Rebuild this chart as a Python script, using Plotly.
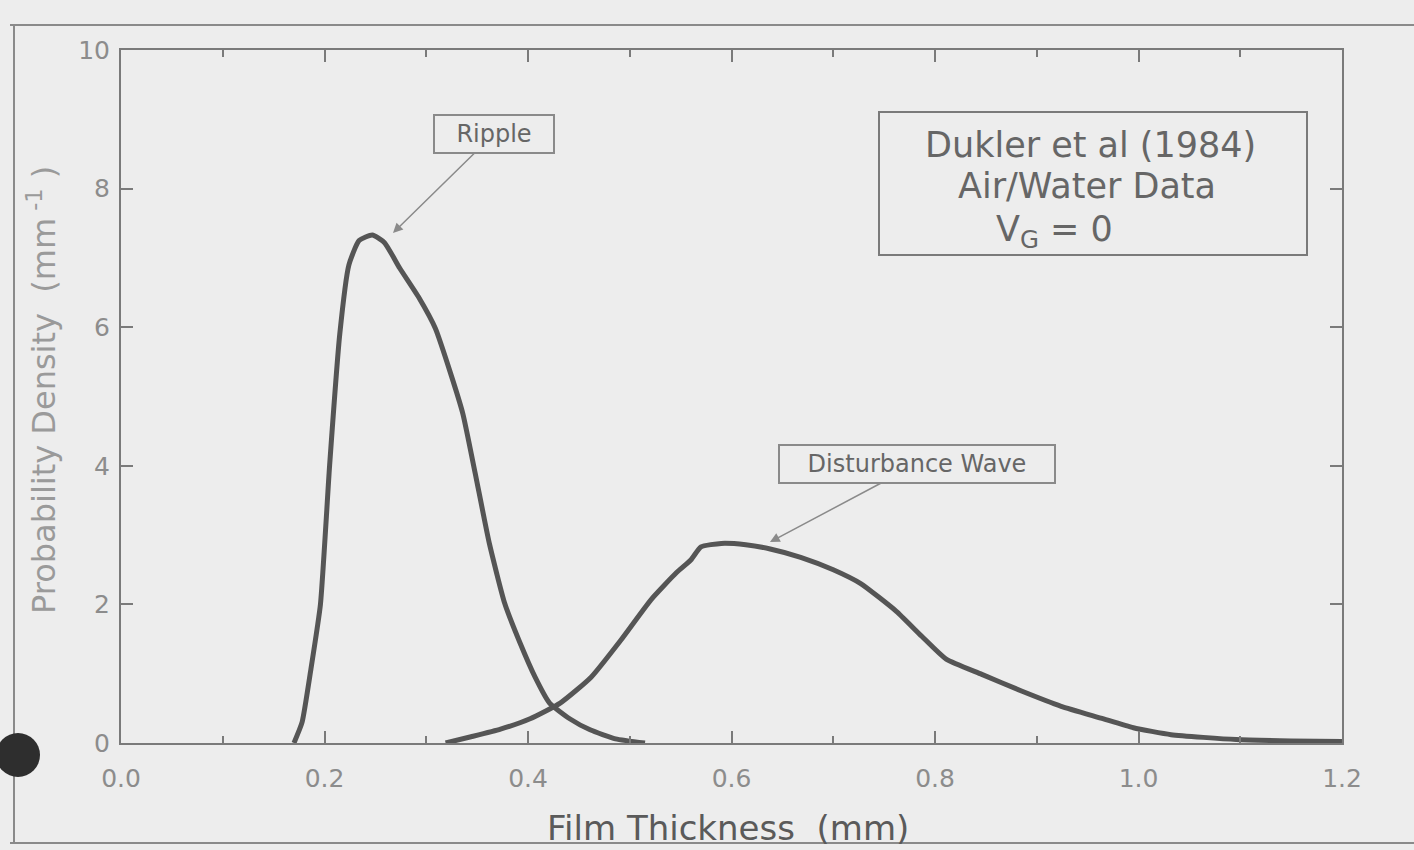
import plotly.graph_objects as go

# ---- data ----
ripple_x = [0.170, 0.178, 0.187, 0.196, 0.205, 0.215, 0.224, 0.234, 0.247, 0.259,
            0.274, 0.293, 0.309, 0.324, 0.336, 0.348, 0.362, 0.377, 0.392, 0.407,
            0.421, 0.441, 0.461, 0.486, 0.515]
ripple_y = [0.00, 0.30, 1.10, 2.00, 4.00, 5.90, 6.90, 7.25, 7.33, 7.22,
            6.85, 6.42, 5.98, 5.33, 4.75, 3.90, 2.88, 2.02, 1.45, 0.95,
            0.58, 0.35, 0.19, 0.06, 0.00]

dist_x = [0.319, 0.344, 0.373, 0.402, 0.432, 0.462, 0.491, 0.521, 0.546, 0.560,
          0.570, 0.590, 0.614, 0.638, 0.668, 0.700, 0.727, 0.762, 0.787, 0.811,
          0.846, 0.885, 0.924, 0.963, 0.995, 1.032, 1.096, 1.150, 1.200]
dist_y = [0.00, 0.09, 0.20, 0.35, 0.58, 0.95, 1.48, 2.07, 2.46, 2.64,
          2.83, 2.88, 2.86, 2.80, 2.68, 2.50, 2.30, 1.90, 1.54, 1.21,
          0.99, 0.75, 0.53, 0.36, 0.22, 0.12, 0.05, 0.03, 0.02]

x_ticks = [0.0, 0.2, 0.4, 0.6, 0.8, 1.0, 1.2]
x_tick_text = ["0.0", "0.2", "0.4", "0.6", "0.8", "1.0", "1.2"]
y_ticks = [0, 2, 4, 6, 8, 10]
y_tick_text = ["0", "2", "4", "6", "8", "10"]

BG = "#ededed"
AX = "#7a7a7a"
LINE = "#555555"
FONT = "DejaVu Sans"

fig = go.Figure()
fig.add_trace(go.Scatter(x=ripple_x, y=ripple_y, mode="lines",
                         line=dict(color=LINE, width=5, shape="spline", smoothing=0.5),
                         showlegend=False, hoverinfo="skip"))
fig.add_trace(go.Scatter(x=dist_x, y=dist_y, mode="lines",
                         line=dict(color=LINE, width=5, shape="spline", smoothing=0.5),
                         showlegend=False, hoverinfo="skip"))

axis_common = dict(showgrid=False, zeroline=False, showline=True, linecolor=AX, linewidth=2,
                   ticks="inside", ticklen=12, tickwidth=2, tickcolor=AX, mirror="ticks",
                   tickfont=dict(family=FONT, size=25, color="#8c8c8c"))

fig.update_xaxes(range=[0, 1.2], tickvals=x_ticks, ticktext=x_tick_text,
                 minor=dict(dtick=0.1, ticks="inside", ticklen=7, tickwidth=2, tickcolor=AX),
                 ticklabelstandoff=12, **axis_common)
fig.update_yaxes(range=[0, 10], tickvals=y_ticks, ticktext=y_tick_text,
                 ticklabelstandoff=4, **axis_common)

W, H = 1414, 850
L, R, T, B = 121, 72, 50, 107
pw, ph = W - L - R, H - T - B


def px(xp):
    return (xp - L) / pw


def py(yp):
    return (H - B - yp) / ph


shapes = [
    # scanned page frame
    dict(type="line", xref="paper", yref="paper", x0=px(10), x1=px(1414), y0=py(25), y1=py(25),
         line=dict(color="#8a8a8a", width=2)),
    dict(type="line", xref="paper", yref="paper", x0=px(14), x1=px(14), y0=py(25), y1=py(843),
         line=dict(color="#8a8a8a", width=2)),
    dict(type="line", xref="paper", yref="paper", x0=px(10), x1=px(1414), y0=py(843), y1=py(843),
         line=dict(color="#8a8a8a", width=2)),
    # punch hole
    dict(type="circle", xref="paper", yref="paper", x0=px(-4), x1=px(40), y0=py(777), y1=py(733),
         fillcolor="#2e2e2e", line=dict(color="#2e2e2e", width=0)),
    # info box
    dict(type="rect", xref="paper", yref="paper", x0=px(879), x1=px(1307), y0=py(255), y1=py(112),
         line=dict(color="#7a7a7a", width=2)),
]

info_font = dict(family=FONT, size=35, color="#666666")
annotations = [
    dict(text="Dukler et al (1984)", xref="paper", yref="paper", x=px(1090), y=py(145),
         xanchor="center", yanchor="middle", showarrow=False, font=info_font),
    dict(text="Air/Water Data", xref="paper", yref="paper", x=px(1087), y=py(186),
         xanchor="center", yanchor="middle", showarrow=False, font=info_font),
    dict(text="V<sub>G</sub> = 0", xref="paper", yref="paper", x=px(1054), y=py(231),
         xanchor="center", yanchor="middle", showarrow=False, font=info_font),
    # axis titles
    dict(text="Film Thickness  (mm)", xref="paper", yref="paper", x=px(728), y=py(828),
         xanchor="center", yanchor="middle", showarrow=False,
         font=dict(family=FONT, size=34, color="#5a5a5a")),
    dict(text="Probability Density  (mm<sup> -1</sup> )", xref="paper", yref="paper",
         x=px(42), y=py(390), xanchor="center", yanchor="middle", textangle=-90,
         showarrow=False, font=dict(family=FONT, size=32, color="#9a9a9a")),
    # callouts
    dict(text="Ripple", x=0.2673, y=7.36, xref="x", yref="y", ax=101, ay=-99,
         showarrow=True, arrowhead=2, arrowsize=1.3, arrowwidth=1.5, arrowcolor="#8a8a8a",
         bordercolor="#8a8a8a", borderwidth=2, borderpad=3, width=112, height=30,
         bgcolor=BG, font=dict(family=FONT, size=24, color="#666666")),
    dict(text="Disturbance Wave", x=0.6378, y=2.90, xref="x", yref="y", ax=147, ay=-78,
         showarrow=True, arrowhead=2, arrowsize=1.3, arrowwidth=1.5, arrowcolor="#8a8a8a",
         bordercolor="#8a8a8a", borderwidth=2, borderpad=3, width=268, height=30,
         bgcolor=BG, font=dict(family=FONT, size=24, color="#666666")),
]

fig.update_layout(width=W, height=H, autosize=False,
                  margin=dict(l=L, r=R, t=T, b=B, pad=0),
                  paper_bgcolor=BG, plot_bgcolor=BG,
                  shapes=shapes, annotations=annotations, showlegend=False)

fig.write_html("out.html")
